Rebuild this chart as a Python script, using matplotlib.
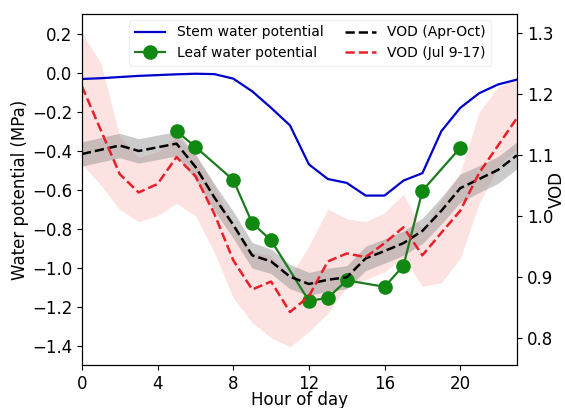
import matplotlib
matplotlib.use('Agg')
import matplotlib.pyplot as plt

plt.rcParams['font.family'] = ['DejaVu Sans']

hours = list(range(24))

# stem water potential (MPa), hourly
stem = [-0.032, -0.028, -0.022, -0.016, -0.012, -0.008, -0.005, -0.007, -0.03, -0.095,
        -0.18, -0.27, -0.47, -0.545, -0.565, -0.63, -0.63, -0.553, -0.515, -0.30,
        -0.18, -0.105, -0.06, -0.035]

# leaf water potential (MPa), measured hours
leaf_hours = [5, 6, 8, 9, 10, 12, 13, 14, 16, 17, 18, 20]
leaf = [-0.30, -0.38, -0.55, -0.77, -0.86, -1.17, -1.155, -1.065, -1.098, -0.99, -0.605, -0.385]

# VOD Apr-Oct mean and band half width
vod_all = [1.101, 1.108, 1.115, 1.106, 1.112, 1.118, 1.08, 1.03, 0.985, 0.935, 0.925, 0.9,
           0.888, 0.895, 0.899, 0.93, 0.942, 0.955, 0.975, 1.008, 1.045, 1.06, 1.075, 1.099]
vod_all_err = [0.02, 0.02, 0.02, 0.02, 0.02, 0.02, 0.021, 0.022, 0.022, 0.021, 0.02, 0.02,
               0.019, 0.019, 0.019, 0.02, 0.02, 0.02, 0.021, 0.022, 0.023, 0.022, 0.022, 0.022]

# VOD Jul 9-17 and its range
vod_jul = [1.212, 1.14, 1.068, 1.038, 1.052, 1.096, 1.065, 1.003, 0.927, 0.879, 0.892, 0.842,
           0.868, 0.925, 0.938, 0.932, 0.955, 0.981, 0.935, 0.972, 1.008, 1.07, 1.115, 1.16]
vod_jul_hi = [1.30, 1.25, 1.13, 1.095, 1.105, 1.13, 1.10, 1.05, 0.98, 0.94, 0.935, 0.90,
              0.95, 1.011, 0.995, 0.99, 1.005, 1.035, 0.976, 1.025, 1.07, 1.17, 1.21, 1.225]
vod_jul_lo = [1.085, 1.05, 1.01, 0.99, 1.0, 1.02, 1.0, 0.94, 0.865, 0.825, 0.80, 0.785,
              0.81, 0.84, 0.884, 0.895, 0.908, 0.932, 0.884, 0.89, 0.93, 1.02, 1.08, 1.11]

fig = plt.figure(figsize=(5.65, 4.08), dpi=100)
ax = fig.add_axes([0.145, 0.105, 0.77, 0.86])
ax2 = ax.twinx()
ax2.set_ylim(0.755, 1.33)

# shaded bands sit under the water potential lines
ax.fill_between(hours, vod_jul_lo, vod_jul_hi, color='#fde2e2', lw=0,
                transform=ax2.transData, zorder=0.5)
ax.fill_between(hours, [v - e for v, e in zip(vod_all, vod_all_err)],
                [v + e for v, e in zip(vod_all, vod_all_err)], color='#8c8c8c', alpha=0.45, lw=0,
                transform=ax2.transData, zorder=0.6)

l1, = ax.plot(hours, stem, color='#0000cc', lw=1.6, label='Stem water potential')
l2, = ax.plot(leaf_hours, leaf, color='#1e7a1e', lw=1.6, marker='o', ms=9.5,
              markerfacecolor='#118811', markeredgecolor='#118811', label='Leaf water potential')

l3, = ax2.plot(hours, vod_all, color='black', lw=1.8, ls='--', label='VOD (Apr-Oct)')
l4, = ax2.plot(hours, vod_jul, color='#e8202a', lw=1.8, ls='--', label='VOD (Jul 9-17)')

ax.set_xlim(0, 23)
ax.set_ylim(-1.5, 0.3)
ax.set_xticks([0, 4, 8, 12, 16, 20])
ax.set_yticks([-1.4, -1.2, -1.0, -0.8, -0.6, -0.4, -0.2, 0.0, 0.2])
ax2.set_yticks([0.8, 0.9, 1.0, 1.1, 1.2, 1.3])
ax.tick_params(labelsize=12)
ax2.tick_params(labelsize=12)
ax.set_xlabel('Hour of day', fontsize=12, labelpad=-1)
ax.set_ylabel('Water potential (MPa)', fontsize=12, labelpad=2)
ax2.set_ylabel('VOD', fontsize=12, labelpad=-4)

ax2.legend(handles=[l1, l2, l3, l4], ncol=2, loc='upper center', bbox_to_anchor=(0.525, 1.0),
           fontsize=10, frameon=True, edgecolor='#f0f0f0', framealpha=1, columnspacing=1.6,
           handlelength=2.2, borderaxespad=0.4)

fig.savefig('out.png', dpi=100)
